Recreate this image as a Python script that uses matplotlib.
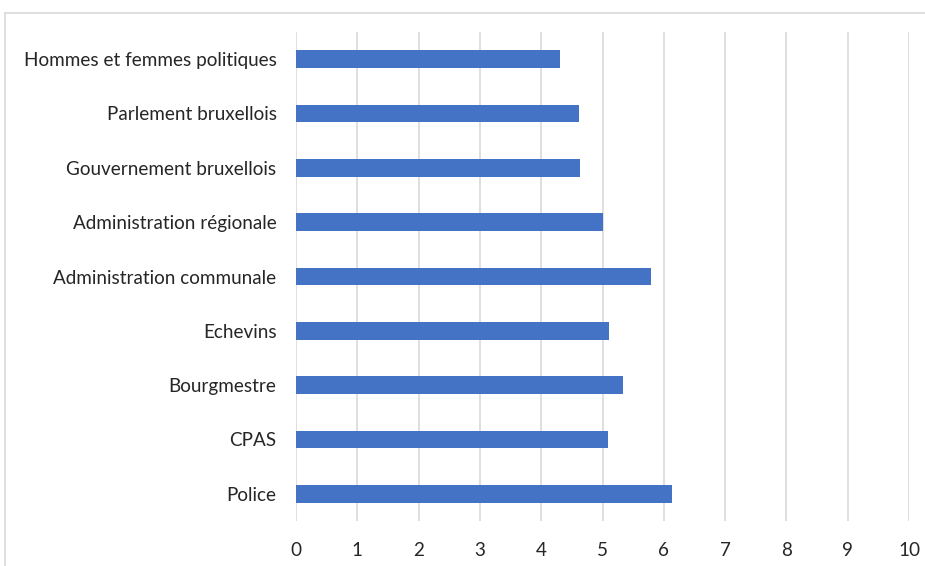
import matplotlib

matplotlib.use("Agg")
import matplotlib.pyplot as plt  # noqa: E402
from matplotlib.lines import Line2D  # noqa: E402

# Categories from bottom to top
categories = [
    "Police",
    "CPAS",
    "Bourgmestre",
    "Echevins",
    "Administration communale",
    "Administration régionale",
    "Gouvernement bruxellois",
    "Parlement bruxellois",
    "Hommes et femmes politiques",
]
values = [6.13, 5.09, 5.34, 5.11, 5.79, 5.0, 4.63, 4.61, 4.31]
x_ticks = list(range(0, 11))

plt.rcParams["font.family"] = ["Lato", "DejaVu Sans"]

fig = plt.figure(figsize=(9.25, 5.66), dpi=100)
ax = fig.add_axes([296 / 925, 1 - 521 / 566, 613 / 925, 489 / 566])

ax.barh(range(len(categories)), values, height=0.33, color="#4472C4", zorder=3)

ax.set_xlim(0, 10)
ax.set_ylim(-0.5, len(categories) - 0.5)
ax.set_xticks(x_ticks)
ax.set_yticks(range(len(categories)))
ax.set_yticklabels(categories)
ax.tick_params(axis="both", length=0, labelsize=13.6, labelcolor="#262626")
ax.tick_params(axis="x", pad=15)
ax.tick_params(axis="y", pad=14)
ax.grid(True, axis="x", color="#d9d9d9", linewidth=1.2, zorder=0)
for s in ax.spines.values():
    s.set_visible(False)

# chart area border (cropped at right and bottom)
fig.add_artist(Line2D([5 / 925, 5 / 925], [0, 1 - 13 / 566], transform=fig.transFigure,
                      color="#d9d9d9", linewidth=1.2))
fig.add_artist(Line2D([5 / 925, 1], [1 - 13 / 566, 1 - 13 / 566], transform=fig.transFigure,
                      color="#d9d9d9", linewidth=1.2))

fig.savefig("out.png", dpi=100)
